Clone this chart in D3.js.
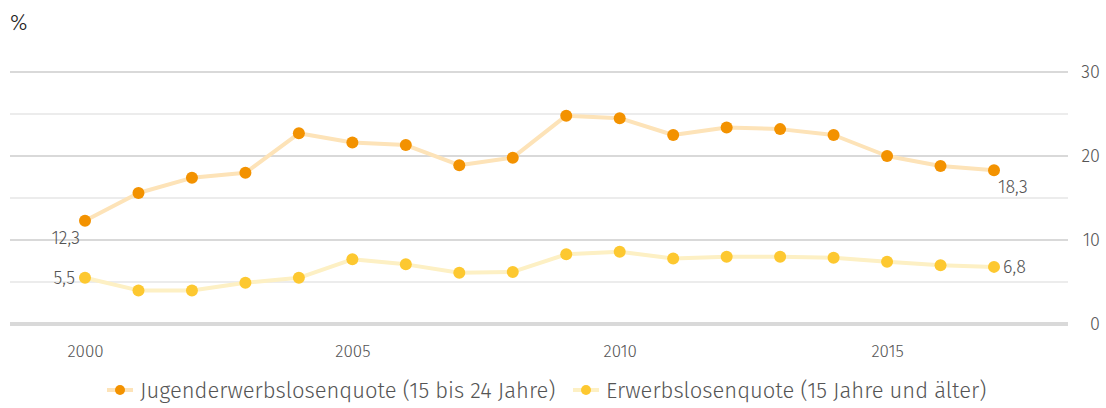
<!DOCTYPE html>
<html>
<head>
<meta charset="utf-8">
<script src="https://cdn.jsdelivr.net/npm/d3@7"></script>
<style>
  body { margin: 0; background: #fff; }
  text { font-family: "Fira Sans", "Lato", "Noto Sans", sans-serif; fill: #555; font-weight: 300; }
</style>
</head>
<body>
<div id="chart"></div>
<script>
// data
const years = d3.range(2000, 2018);
const youthRate = [12.3, 15.6, 17.4, 18.0, 22.7, 21.6, 21.3, 18.9, 19.8, 24.8, 24.5, 22.5, 23.4, 23.2, 22.5, 20.0, 18.8, 18.3];
const totalRate = [5.5, 4.0, 4.0, 4.9, 5.5, 7.7, 7.1, 6.1, 6.2, 8.3, 8.6, 7.8, 8.0, 8.0, 7.9, 7.4, 7.0, 6.8];
const seriesNames = ["Jugenderwerbslosenquote (15 bis 24 Jahre)", "Erwerbslosenquote (15 Jahre und älter)"];
const yTicks = [0, 10, 20, 30];
const gridTicks = [0, 5, 10, 15, 20, 25, 30];
const xTicks = [2000, 2005, 2010, 2015];

const width = 1106, height = 408;

const svg = d3.select("#chart").append("svg")
    .attr("width", width)
    .attr("height", height);

const x = d3.scaleLinear().domain([2000, 2017]).range([85, 994]);
const y = d3.scaleLinear().domain([0, 30]).range([324, 72]);

// gridlines
svg.append("g").selectAll("line")
    .data(gridTicks)
    .join("line")
    .attr("x1", 10)
    .attr("x2", 1068)
    .attr("y1", d => y(d))
    .attr("y2", d => y(d))
    .attr("stroke", "#d9d9d9")
    .attr("stroke-width", d => d === 0 ? 4 : (d % 10 === 0 ? 2 : 1));

// right axis
const yAxis = svg.append("g")
    .attr("transform", "translate(1100,0)")
    .call(d3.axisRight(y).tickValues(yTicks).tickSize(0).tickPadding(0));
yAxis.select(".domain").remove();
yAxis.selectAll("text")
    .attr("text-anchor", "end")
    .style("font-size", "18px")
    .attr("fill", "#555");

// bottom axis
const xAxis = svg.append("g")
    .attr("transform", "translate(0,345)")
    .call(d3.axisBottom(x).tickValues(xTicks).tickFormat(d3.format("d")).tickSize(0).tickPadding(0));
xAxis.select(".domain").remove();
xAxis.selectAll("text")
    .style("font-size", "17px")
    .attr("fill", "#555");

svg.append("text")
    .attr("x", 10)
    .attr("y", 30)
    .style("font-size", "22px")
    .style("fill", "#222")
    .text("%");

const series = [
    {name: seriesNames[0], values: youthRate, dot: "#f39200", line: "#fde3b8"},
    {name: seriesNames[1], values: totalRate, dot: "#fdc830", line: "#fdf0c4"}
];

const line = d3.line()
    .x((d, i) => x(years[i]))
    .y(d => y(d));

series.forEach(s => {
    svg.append("path")
        .datum(s.values)
        .attr("d", line)
        .attr("fill", "none")
        .attr("stroke", s.line)
        .attr("stroke-width", 4)
        .attr("stroke-linejoin", "round");

    svg.append("g").selectAll("circle")
        .data(s.values)
        .join("circle")
        .attr("cx", (d, i) => x(years[i]))
        .attr("cy", d => y(d))
        .attr("r", 6)
        .attr("fill", s.dot);
});

// value labels
const fmt = v => d3.format(".1f")(v).replace(".", ",");
const labels = [
    {v: youthRate[0], yr: 2000, dx: -5, dy: 23, anchor: "end"},
    {v: totalRate[0], yr: 2000, dx: -10, dy: 6, anchor: "end"},
    {v: youthRate[17], yr: 2017, dx: 4, dy: 23, anchor: "start"},
    {v: totalRate[17], yr: 2017, dx: 9, dy: 6, anchor: "start"}
];
svg.append("g").selectAll("text")
    .data(labels)
    .join("text")
    .attr("x", d => x(d.yr) + d.dx)
    .attr("y", d => y(d.v) + d.dy)
    .attr("text-anchor", d => d.anchor)
    .style("font-size", "18px")
    .text(d => fmt(d.v));

// legend
const legend = svg.append("g");
const legendX = [107, 573];
series.forEach((s, i) => {
    const g = legend.append("g").attr("transform", `translate(${legendX[i]},390)`);
    g.append("line").attr("x1", 0).attr("x2", 26).attr("stroke", s.line).attr("stroke-width", 4);
    g.append("circle").attr("cx", 13).attr("r", 5).attr("fill", s.dot);
    g.append("text")
        .attr("x", 33)
        .attr("y", 8)
        .style("font-size", "22px")
        .text(s.name);
});
</script>
</body>
</html>
